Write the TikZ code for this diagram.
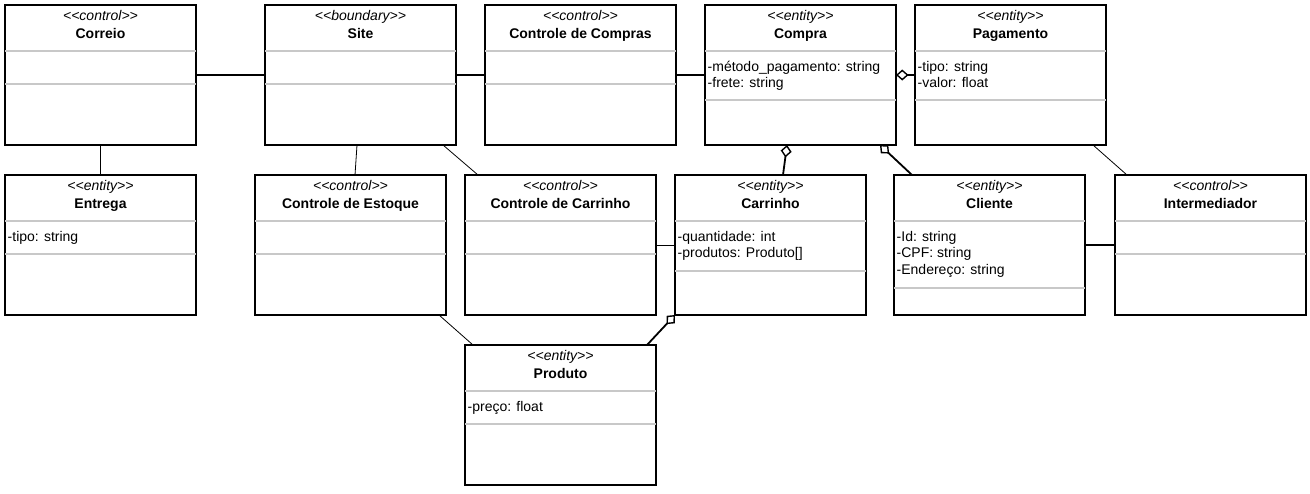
\documentclass[tikz,border=0pt]{standalone}
\usepackage{fontspec}
\setmainfont{Liberation Sans}[Ligatures=TeXOff]
\usetikzlibrary{arrows.meta}
\definecolor{sepgray}{HTML}{C8C8C8}
\tikzset{
  classbox/.style={draw=black, line width=1.6pt, fill=white, rectangle,
    minimum width=191pt, minimum height=140pt, inner sep=0pt, outer sep=0pt},
  sepline/.style={draw=sepgray, line width=1.3pt},
  stereotxt/.style={anchor=base, inner sep=0pt, font=\fontsize{14}{17}\selectfont\itshape},
  titletxt/.style={anchor=base, inner sep=0pt, font=\fontsize{14}{17}\selectfont\bfseries},
  attrtxt/.style={anchor=base west, inner sep=0pt, font=\fontsize{14}{17}\selectfont},
  thinlink/.style={draw=black, line width=0.8pt},
  thicklink/.style={draw=black, line width=1.8pt},
  agglink/.style={draw=black, line width=1.8pt,
    {Diamond[open, length=12.5pt, width=11pt, line width=1.4pt, sep=0pt]}-},
}
% #1 name, #2 left, #3 top, #4 offset of 2nd separator, #5 stereotype, #6 title
\newcommand{\umlcls}[6]{%
  \node[classbox] (#1) at (#2+95.5, #3+70) {};
  \draw[sepline] ([yshift=-46pt]#1.north west) -- ([yshift=-46pt]#1.north east);
  \draw[sepline] ([yshift=-#4pt]#1.north west) -- ([yshift=-#4pt]#1.north east);
  \node[stereotxt] (#1-st) at ([yshift=-15.5pt]#1.north) {<\kern0pt<#5>\kern0pt>};
  \node[titletxt] (#1-ti) at ([yshift=-33pt]#1.north) {#6};
}
% #1 class name, #2 line index (0,1,2), #3 text
\newcommand{\umlattr}[3]{%
  \node[attrtxt] (#1-a#2) at ([xshift=2.5pt, yshift=-66pt-#2*16.7pt]#1.north west) {#3};
}
\begin{document}
\begin{tikzpicture}[x=1pt, y=-1pt]
\useasboundingbox[fill=white] (0,0) rectangle (1310,493);

% row 1
\umlcls{correio}{5}{5}{79}{control}{Correio}
\umlcls{site}{265}{5}{79}{boundary}{Site}
\umlcls{ccompras}{485}{5}{79}{control}{Controle de Compras}
\umlcls{compra}{705}{5}{95}{entity}{Compra}
\umlattr{compra}{0}{-método\_pagamento: string}
\umlattr{compra}{1}{-frete: string}
\umlcls{pagamento}{915}{5}{95}{entity}{Pagamento}
\umlattr{pagamento}{0}{-tipo: string}
\umlattr{pagamento}{1}{-valor: float}

% row 2
\umlcls{entrega}{5}{175}{79}{entity}{Entrega}
\umlattr{entrega}{0}{-tipo: string}
\umlcls{cestoque}{255}{175}{79}{control}{Controle de Estoque}
\umlcls{ccarrinho}{465}{175}{79}{control}{Controle de Carrinho}
\umlcls{carrinho}{675}{175}{96}{entity}{Carrinho}
\umlattr{carrinho}{0}{-quantidade: int}
\umlattr{carrinho}{1}{-produtos: Produto[]}
\umlcls{cliente}{894}{175}{113}{entity}{Cliente}
\umlattr{cliente}{0}{-Id: string}
\umlattr{cliente}{1}{-CPF: string}
\umlattr{cliente}{2}{-Endereço: string}
\umlcls{intermed}{1115}{175}{79}{control}{Intermediador}

% row 3
\umlcls{produto}{465}{345}{79}{entity}{Produto}
\umlattr{produto}{0}{-preço: float}

% thick associations
\draw[thicklink] (correio) -- (site);
\draw[thicklink] (site) -- (ccompras);
\draw[thicklink] (ccompras) -- (compra);
\draw[thicklink] (cliente) -- (intermed);

% aggregations (diamond at the whole)
\draw[agglink] (compra.east) -- (pagamento.west);
\draw[agglink] ([xshift=82pt]compra.south west) -- ([xshift=108pt]carrinho.north west);
\draw[agglink] ([xshift=175pt]compra.south west) -- ([xshift=18pt]cliente.north west);
\draw[agglink] (carrinho.south west) -- ([xshift=182pt]produto.north west);

% thin associations
\draw[thinlink] (correio) -- (entrega);
\draw[thinlink] ([xshift=92pt]site.south west) -- ([xshift=100pt]cestoque.north west);
\draw[thinlink] ([xshift=178pt]site.south west) -- ([xshift=13pt]ccarrinho.north west);
\draw[thinlink] (ccarrinho) -- (carrinho);
\draw[thinlink] ([xshift=178pt]pagamento.south west) -- ([xshift=12pt]intermed.north west);
\draw[thinlink] ([xshift=184pt]cestoque.south west) -- ([xshift=8pt]produto.north west);
\end{tikzpicture}
\end{document}
